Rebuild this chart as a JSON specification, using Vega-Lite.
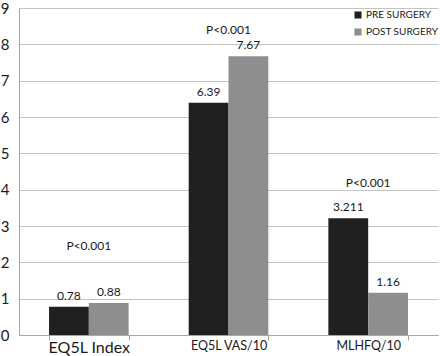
{
  "$schema": "https://vega.github.io/schema/vega-lite/v6.json",
  "width": 419,
  "height": 327,
  "autosize": "none",
  "padding": {"left": 19, "top": 8, "right": 2, "bottom": 21},
  "background": "white",
  "config": {
    "font": "Lato",
    "view": {"stroke": null}
  },
  "datasets": {
    "bars": [
      {"measure": "EQ5L Index", "period": "PRE SURGERY", "value": 0.78, "label": "0.78"},
      {"measure": "EQ5L Index", "period": "POST SURGERY", "value": 0.88, "label": "0.88"},
      {"measure": "EQ5L VAS/10", "period": "PRE SURGERY", "value": 6.39, "label": "6.39"},
      {"measure": "EQ5L VAS/10", "period": "POST SURGERY", "value": 7.67, "label": "7.67"},
      {"measure": "MLHFQ/10", "period": "PRE SURGERY", "value": 3.211, "label": "3.211"},
      {"measure": "MLHFQ/10", "period": "POST SURGERY", "value": 1.16, "label": "1.16"}
    ],
    "pvals": [
      {"measure": "EQ5L Index", "value": 2.45, "label": "P<0.001"},
      {"measure": "EQ5L VAS/10", "value": 8.4, "label": "P<0.001"},
      {"measure": "MLHFQ/10", "value": 4.18, "label": "P<0.001"}
    ]
  },
  "encoding": {
    "x": {
      "field": "measure", "type": "nominal", "sort": null,
      "scale": {"paddingInner": 0.43, "paddingOuter": 0.215},
      "axis": {
        "title": null, "labelAngle": 0, "tickBand": "extent",
        "domainColor": "#a6a6a6", "tickColor": "#a6a6a6", "tickSize": 5,
        "labelPadding": -1, "labelColor": "#1a1a1a",
        "labelFontSize": {"condition": {"test": "datum.value == 'EQ5L Index'", "value": 16}, "value": 12.5}
      }
    },
    "y": {
      "field": "value", "type": "quantitative",
      "scale": {"domain": [0, 9], "nice": false},
      "axis": {
        "title": null, "values": [0,1,2,3,4,5,6,7,8,9], "ticks": false, "labelOverlap": false,
        "labelPadding": 10, "labelFontSize": 15, "labelColor": "#1a1a1a",
        "domainColor": "#a6a6a6", "gridColor": "#c4c4c4", "gridWidth": 1.2
      }
    }
  },
  "layer": [
    {
      "data": {"name": "bars"},
      "mark": {"type": "bar"},
      "encoding": {
        "xOffset": {"field": "period", "type": "nominal", "sort": ["PRE SURGERY", "POST SURGERY"], "scale": {"paddingInner": 0, "paddingOuter": 0}},
        "color": {
          "field": "period", "type": "nominal",
          "scale": {"domain": ["PRE SURGERY", "POST SURGERY"], "range": ["#202020", "#8e8e8e"]},
          "legend": {
            "title": null, "orient": "none", "legendX": 334, "legendY": 2,
            "symbolType": "square", "symbolSize": 50, "symbolStrokeWidth": 0,
            "labelFontSize": 10, "labelColor": "#1a1a1a", "rowPadding": 7, "labelOffset": 3
          }
        }
      }
    },
    {
      "data": {"name": "bars"},
      "mark": {"type": "text", "baseline": "bottom", "dy": -4, "fontSize": 12, "color": "#1a1a1a"},
      "encoding": {
        "xOffset": {"field": "period", "type": "nominal", "sort": ["PRE SURGERY", "POST SURGERY"]},
        "text": {"field": "label", "type": "nominal"}
      }
    },
    {
      "data": {"name": "pvals"},
      "mark": {"type": "text", "baseline": "middle", "fontSize": 12, "color": "#1a1a1a"},
      "encoding": {
        "text": {"field": "label", "type": "nominal"}
      }
    }
  ]
}
